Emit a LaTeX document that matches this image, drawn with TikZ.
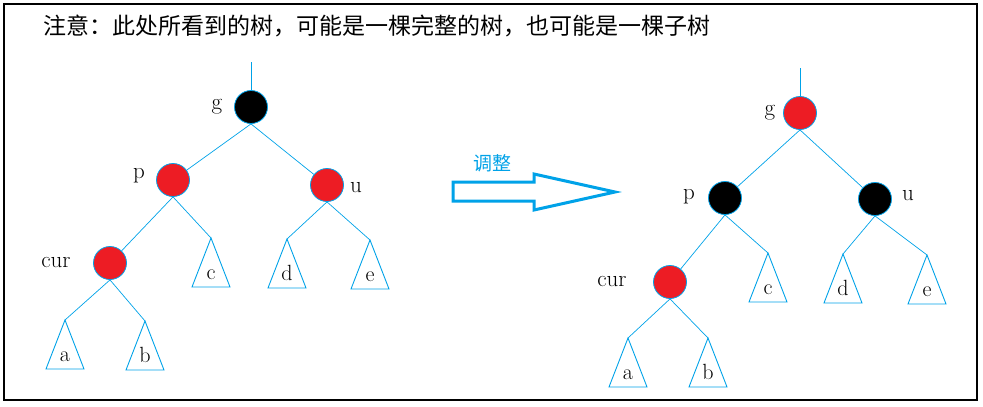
\documentclass[tikz,border=0pt]{standalone}
\usepackage{fontspec}
\newfontfamily\cjk{Noto Sans CJK SC}
\definecolor{lineblue}{RGB}{0,162,232}
\definecolor{nodered}{RGB}{237,28,36}
\tikzset{
  rb/.style={circle, minimum size=33pt, inner sep=0pt, draw=lineblue, line width=0.8pt},
  rednode/.style={rb, fill=nodered},
  blacknode/.style={rb, fill=black},
  edge/.style={draw=lineblue, line width=0.7pt},
  tri/.style={draw=lineblue, line width=0.9pt, line join=miter},
  lbl/.style={font=\fontsize{23}{23}\selectfont, inner sep=0pt, anchor=base},
  tlbl/.style={font=\fontsize{22}{22}\selectfont, inner sep=0pt, anchor=base},
}
\newcommand\subtree[4]{% name, apex, label text
  \coordinate (#1) at (#2,#3);
  \draw[tri] (#1) -- ++(-19,49) -- ++(38,0) -- cycle;
  \node[tlbl] (#1t) at ([yshift=-41pt]#1) {#4};
}
\begin{document}
\begin{tikzpicture}[x=1pt, y=-1pt]
\useasboundingbox (0,0) rectangle (983,407);
\draw[line width=1.5pt] (4,4) rectangle (977,400);
\node[font=\cjk\fontsize{23}{23}\selectfont, anchor=base west, inner sep=0pt] (title) at (43,34)
  {注意：此处所看到的树，可能是一棵完整的树，也可能是一棵子树};

% ---------------- left tree ----------------
\node[blacknode] (Lg) at (251,107) {};
\node[rednode] (Lp) at (173,180) {};
\node[rednode] (Lu) at (327,185) {};
\node[rednode] (Lcur) at (110,263) {};
\coordinate (Ltop) at (251,62);
\draw[edge] (Ltop) -- (Lg);
\subtree{Lc}{211}{238}{c}
\subtree{Ld}{287}{239}{d}
\subtree{Le}{370}{240}{e}
\subtree{La}{65}{320}{a}
\subtree{Lb}{145}{321}{b}
\draw[edge] (Lg.south) -- (Lp);
\draw[edge] (Lg.south) -- (Lu);
\draw[edge] (Lp.south) -- (Lcur);
\draw[edge] (Lp.south) -- (Lc);
\draw[edge] (Lu.south) -- (Ld);
\draw[edge] (Lu.south) -- (Le);
\draw[edge] (Lcur.south) -- (La);
\draw[edge] (Lcur.south) -- (Lb);
\node[lbl] (Lgl) at (217,109) {g};
\node[lbl] (Lpl) at (139,178) {p};
\node[lbl] (Lul) at (356,192) {u};
\node[lbl] (Lcurl) at (56,267) {cur};

% ---------------- arrow ----------------
\draw[draw=lineblue, line width=3pt, line join=miter, miter limit=20]
  (453,182) -- (534,182) -- (534,174) -- (615,192) -- (534,210) -- (534,201) -- (453,201) -- cycle;
\node[font=\cjk\fontsize{19}{19}\selectfont, text=lineblue, inner sep=0pt] (adj) at (492,163) {调整};

% ---------------- right tree ----------------
\node[rednode] (Rg) at (800,113) {};
\node[blacknode] (Rp) at (725,198) {};
\node[blacknode] (Ru) at (875,199) {};
\node[rednode] (Rcur) at (670,282) {};
\coordinate (Rtop) at (800,68);
\draw[edge] (Rtop) -- (Rg);
\subtree{Rc}{768}{253}{c}
\subtree{Rd}{843}{254}{d}
\subtree{Re}{927}{255}{e}
\subtree{Ra}{628}{338}{a}
\subtree{Rb}{708}{338}{b}
\draw[edge] (Rg.south) -- (Rp);
\draw[edge] (Rg.south) -- (Ru);
\draw[edge] (Rp.south) -- (Rcur);
\draw[edge] (Rp.south) -- (Rc);
\draw[edge] (Ru.south) -- (Rd);
\draw[edge] (Ru.south) -- (Re);
\draw[edge] (Rcur.south) -- (Ra);
\draw[edge] (Rcur.south) -- (Rb);
\node[lbl] (Rgl) at (770,115) {g};
\node[lbl] (Rpl) at (689,199) {p};
\node[lbl] (Rul) at (908,200) {u};
\node[lbl] (Rcurl) at (612,286) {cur};
\end{tikzpicture}
\end{document}
